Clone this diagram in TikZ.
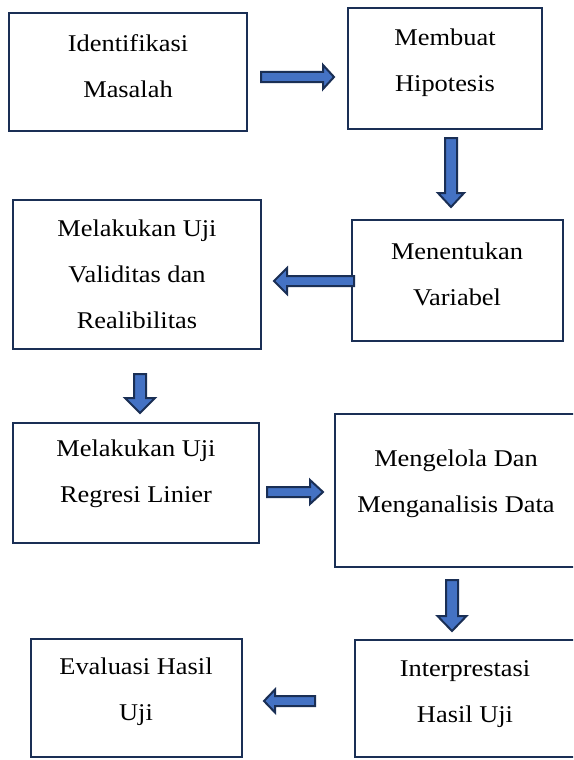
\documentclass[tikz,border=0pt]{standalone}
\usepackage{fontspec}
\setmainfont{Liberation Serif}[FakeStretch=1.1]
\usetikzlibrary{calc}
\definecolor{navy}{HTML}{1A2F55}
\definecolor{arrowblue}{HTML}{4472C4}
\tikzset{
  box/.style={draw=navy, line width=2.4pt},
  txt/.style={align=center, inner sep=0pt, font=\fontsize{24}{46}\selectfont},
  barrow/.style={draw=navy, fill=arrowblue, line width=2pt, line join=miter}
}
\newcommand\blockarrow[5]{%
  \path ($(#2)!#5!(#1)$) coordinate (hb);
  \draw[barrow] ($(#1)!#3!90:(#2)$) -- ($(hb)!#3!90:(#2)$) -- ($(hb)!#4!90:(#2)$) -- (#2)
     -- ($(hb)!#4!-90:(#2)$) -- ($(hb)!#3!-90:(#2)$) -- ($(#1)!#3!-90:(#2)$) -- cycle;}
\begin{document}
\begin{tikzpicture}[x=1pt,y=-1pt]
\useasboundingbox (0,0) rectangle (573,760);
\clip (0,0) rectangle (573,760);
\fill[white] (0,0) rectangle (573,760);
% boxes
\draw[box] (9,13) rectangle (247,131);
\draw[box] (348,8) rectangle (542,129);
\draw[box] (352,220) rectangle (563,341);
\draw[box] (13,200) rectangle (261,349);
\draw[box] (13,423) rectangle (259,543);
\draw[box] (335,414) rectangle (585,567);
\draw[box] (355,640) rectangle (585,757);
\draw[box] (31,639) rectangle (242,757);
% texts
\node[txt] (t1) at (128,66) {Identifikasi\\Masalah};
\node[txt] (t2) at (445,62.5) {Membuat\\Hipotesis};
\node[txt] (t3) at (457,274) {Menentukan\\Variabel};
\node[txt] (t4) at (137,274) {Melakukan Uji\\Validitas dan\\Realibilitas};
\node[txt] (t5) at (136,474) {Melakukan Uji\\Regresi Linier};
\node[txt] (t6) at (456,484) {Mengelola Dan\\Menganalisis Data};
\node[txt] (t7) at (465,694) {Interprestasi\\Hasil Uji};
\node[txt] (t8) at (136,692) {Evaluasi Hasil\\Uji};
% arrow end points
\coordinate (a1s) at (261,77);  \coordinate (a1e) at (334,77);
\coordinate (a2s) at (451,138); \coordinate (a2e) at (451,207);
\coordinate (a3s) at (354,281); \coordinate (a3e) at (274,281);
\coordinate (a4s) at (140,374); \coordinate (a4e) at (140,413);
\coordinate (a5s) at (267,492); \coordinate (a5e) at (323,492);
\coordinate (a6s) at (452,580); \coordinate (a6e) at (452,631);
\coordinate (a7s) at (315,701); \coordinate (a7e) at (264,701);
\blockarrow{a1s}{a1e}{5pt}{12pt}{11pt}
\blockarrow{a2s}{a2e}{6pt}{13pt}{14pt}
\blockarrow{a3s}{a3e}{5pt}{13pt}{13pt}
\blockarrow{a4s}{a4e}{6pt}{15pt}{15pt}
\blockarrow{a5s}{a5e}{5pt}{12pt}{13pt}
\blockarrow{a6s}{a6e}{6pt}{14.5pt}{15pt}
\blockarrow{a7s}{a7e}{5pt}{11.5pt}{11pt}
\end{tikzpicture}
\end{document}
